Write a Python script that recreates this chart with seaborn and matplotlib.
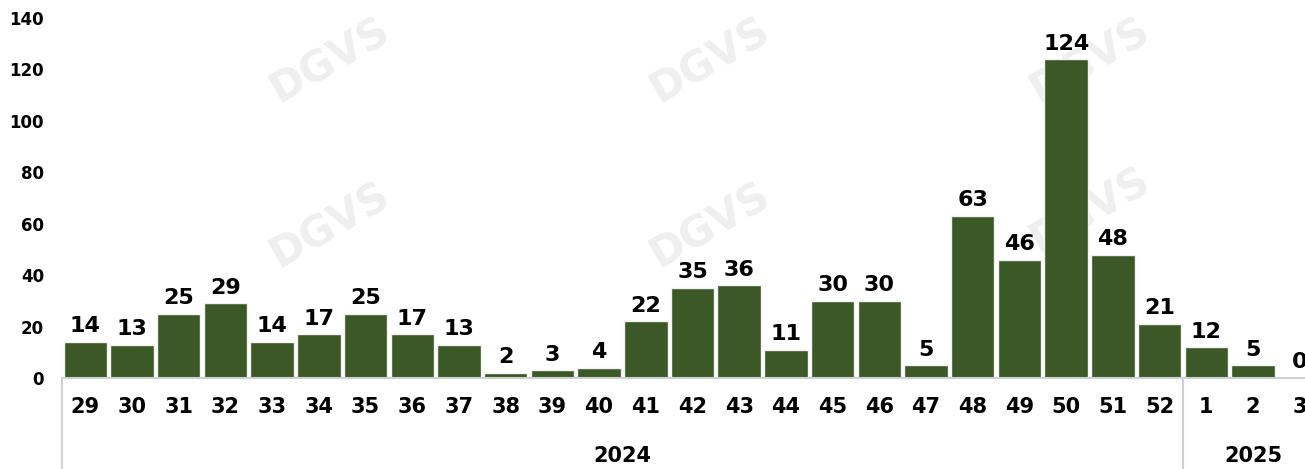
import pandas as pd
import matplotlib
matplotlib.use("Agg")
import matplotlib.pyplot as plt
import matplotlib.transforms as mtransforms
import seaborn as sns

# weekly counts, epi weeks 29/2024 .. 3/2025
weeks = ["29", "30", "31", "32", "33", "34", "35", "36", "37", "38", "39", "40",
         "41", "42", "43", "44", "45", "46", "47", "48", "49", "50", "51", "52",
         "1", "2", "3"]
cases = [14, 13, 25, 29, 14, 17, 25, 17, 13, 2, 3, 4,
         22, 35, 36, 11, 30, 30, 5, 63, 46, 124, 48, 21,
         12, 5, 0]
years = ["2024"] * 24 + ["2025"] * 3

df = pd.DataFrame({"week": weeks, "cases": cases, "year": years})

sns.set_theme(style="white")
plt.rcParams["font.family"] = ["DejaVu Sans"]

fig = plt.figure(figsize=(13.05, 4.69), dpi=100)
ax = fig.add_axes([62 / 1305, 91 / 469, 1261 / 1305, 360 / 469])
ax.set_zorder(1)
ax.patch.set_alpha(0)

# faint watermark behind the bars
for wx, wy in [(330, 60), (710, 60), (1090, 60), (330, 225), (710, 225), (1090, 210)]:
    fig.text(wx / 1305, 1 - wy / 469, "DGVS", fontsize=30, fontweight="bold",
             color="#efefef", rotation=30, ha="center", va="center", zorder=-1)

sns.barplot(data=df, x="week", y="cases", order=weeks, color="#3b5826",
            saturation=1, width=0.93, edgecolor="#f2f2f2", linewidth=1, ax=ax)

ax.bar_label(ax.containers[0], labels=[str(v) for v in cases], padding=4,
             fontsize=16, fontweight="bold", color="black")

ax.set_ylim(0, 140)
ax.set_xlim(-0.5, len(weeks) - 0.5)
ax.set_yticks(range(0, 141, 20))
ax.set_xlabel("")
ax.set_ylabel("")

for side in ["top", "right", "left"]:
    ax.spines[side].set_visible(False)
ax.spines["bottom"].set_color("#d0d0d0")
ax.spines["bottom"].set_linewidth(1.5)

ax.tick_params(axis="x", length=0, pad=14, labelsize=15)
ax.tick_params(axis="y", length=0, pad=13, labelsize=12)
for lab in ax.get_xticklabels() + ax.get_yticklabels():
    lab.set_fontweight("bold")
    lab.set_color("black")

# year groups below the week labels
trans = mtransforms.blended_transform_factory(ax.transData, ax.transAxes)
for xpos in [-0.5, 23.5]:
    ax.plot([xpos, xpos], [0, -0.26], transform=trans, color="#d0d0d0",
            linewidth=1.5, clip_on=False)
ax.text(11.5, -0.217, "2024", transform=trans, ha="center", va="center",
        fontsize=15, fontweight="bold", color="black")
ax.text(25, -0.217, "2025", transform=trans, ha="center", va="center",
        fontsize=15, fontweight="bold", color="black")

fig.savefig("out.png", dpi=100)
